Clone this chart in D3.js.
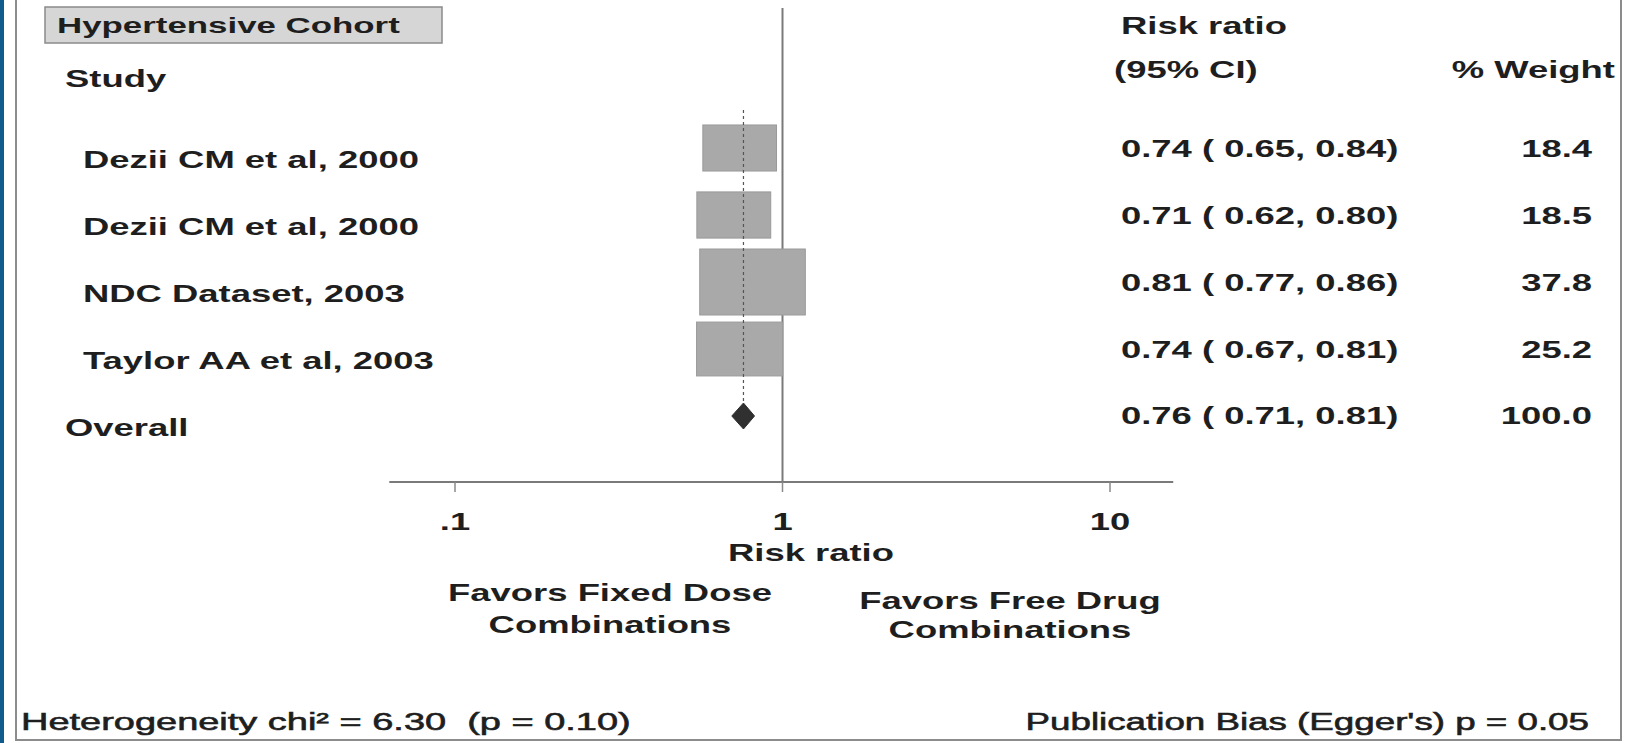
<!DOCTYPE html>
<html>
<head>
<meta charset="utf-8">
<script src="https://cdn.jsdelivr.net/npm/d3@7"></script>
<style>
  html, body { margin: 0; padding: 0; background: #fff; }
  svg { display: block; }
  text { font-family: "Liberation Sans", Arial, sans-serif; fill: #1e1e1e; white-space: pre; }
</style>
</head>
<body>
<svg id="chart" width="1634" height="743"></svg>
<script>
// ---- data -------------------------------------------------------------
const studies   = ["Dezii CM et al, 2000", "Dezii CM et al, 2000", "NDC Dataset, 2003", "Taylor AA et al, 2003"];
const riskRatio = [0.74, 0.71, 0.81, 0.74];
const ciLower   = [0.65, 0.62, 0.77, 0.67];
const ciUpper   = [0.84, 0.80, 0.86, 0.81];
const weights   = [18.4, 18.5, 37.8, 25.2];
const overallLabel  = "Overall";
const overallEst    = [0.76, 0.71, 0.81];   // estimate, lower, upper
const overallWeight = 100.0;
const tickValues = [0.1, 1, 10];
const tickLabels = [".1", "1", "10"];
const axisExtent = [0.063, 15.6];
const heterogeneity = "Heterogeneity chi\u00B2 = 6.30  (p = 0.10)";
const pubBias = "Publication Bias (Egger's) p = 0.05";

// ---- layout -----------------------------------------------------------
const SX = 1.55;          // horizontal stretch of all lettering
const FS = 23.5;          // base font size
const svg = d3.select("#chart");

const x = d3.scaleLog().domain([0.1, 10]).range([455, 1110]);
const rows = d3.range(studies.length + 1);
const y = d3.scalePoint().domain(rows).range([148, 416]);
const boxH = d3.scaleSqrt().domain([0, 37.8]).range([0, 66]);
const f2 = d3.format(".2f"), f1 = d3.format(".1f");

function label(x0, y0, s, opt = {}) {
  const t = svg.append("text")
    .attr("transform", `translate(${x0},${y0}) scale(${opt.sx || SX},1)`)
    .attr("text-anchor", opt.anchor || "start")
    .attr("font-size", opt.size || FS)
    .attr("font-weight", opt.weight || "bold")
    .attr("xml:space", "preserve")
    .text(s);
  if (opt.stroke) t.attr("stroke", "#1e1e1e").attr("stroke-width", opt.stroke);
  return t;
}

// ---- frame ------------------------------------------------------------
svg.append("rect").attr("x", 0).attr("y", 0).attr("width", 4).attr("height", 743).attr("fill", "#0f5b8c");
svg.append("path")
  .attr("d", "M16,0V740H1621V0")
  .attr("fill", "none").attr("stroke", "#8c8c8c").attr("stroke-width", 2);

// ---- header -----------------------------------------------------------
svg.append("rect").attr("x", 45).attr("y", 7).attr("width", 397).attr("height", 36)
  .attr("fill", "#d6d6d6").attr("stroke", "#8a8a8a").attr("stroke-width", 1.5);
label(57, 33, "Hypertensive Cohort", { size: 22.5 });
label(65, 87, "Study");
label(1121, 34, "Risk ratio");
label(1114, 78, "(95% CI)");
label(1615, 78, "% Weight", { anchor: "end" });

// ---- axis -------------------------------------------------------------
const axisY = 482;
svg.append("line")
  .attr("x1", x(axisExtent[0])).attr("x2", x(axisExtent[1]))
  .attr("y1", axisY).attr("y2", axisY)
  .attr("stroke", "#7a7a7a").attr("stroke-width", 2);
svg.selectAll(".tick").data(tickValues).join("line")
  .attr("class", "tick")
  .attr("x1", d => x(d)).attr("x2", d => x(d))
  .attr("y1", axisY).attr("y2", axisY + 10)
  .attr("stroke", "#8a8a8a").attr("stroke-width", 1.5);
tickValues.forEach((d, i) => label(x(d), 530, tickLabels[i], { anchor: "middle" }));

label(811, 561, "Risk ratio", { anchor: "middle" });
label(610, 601, "Favors Fixed Dose", { anchor: "middle" });
label(610, 633, "Combinations", { anchor: "middle" });
label(1010, 609, "Favors Free Drug", { anchor: "middle" });
label(1010, 638, "Combinations", { anchor: "middle" });

// null line at risk ratio 1
svg.append("line")
  .attr("x1", x(1)).attr("x2", x(1)).attr("y1", 8).attr("y2", axisY)
  .attr("stroke", "#7a7a7a").attr("stroke-width", 2);

// ---- studies ----------------------------------------------------------
studies.forEach((s, i) => {
  const cy = y(i);
  svg.append("line")
    .attr("x1", x(ciLower[i])).attr("x2", x(ciUpper[i]))
    .attr("y1", cy).attr("y2", cy)
    .attr("stroke", "#555").attr("stroke-width", 1);
  const h = boxH(weights[i]), w = h * 1.6;
  svg.append("rect")
    .attr("x", x(riskRatio[i]) - w / 2).attr("y", cy - h / 2)
    .attr("width", w).attr("height", h)
    .attr("fill", "#a9a9a9").attr("stroke", "#9a9a9a").attr("stroke-width", 1);
  label(83, cy + 20, s);
  label(1121, cy + 9, `${f2(riskRatio[i])} ( ${f2(ciLower[i])}, ${f2(ciUpper[i])})`);
  label(1592, cy + 9, f1(weights[i]), { anchor: "end" });
});

// ---- overall ----------------------------------------------------------
const oy = y(studies.length);
const dh = 13;
svg.append("line")
  .attr("x1", x(overallEst[0])).attr("x2", x(overallEst[0]))
  .attr("y1", y(0) - 38).attr("y2", oy - dh)
  .attr("stroke", "#555").attr("stroke-width", 1.2).attr("stroke-dasharray", "3,3");
svg.append("path")
  .attr("d", `M${x(overallEst[1]) - 2},${oy}L${x(overallEst[0])},${oy - dh}L${x(overallEst[2]) + 2},${oy}L${x(overallEst[0])},${oy + dh}Z`)
  .attr("fill", "#303030").attr("stroke", "#303030");
label(65, oy + 20, overallLabel);
label(1121, oy + 8, `${f2(overallEst[0])} ( ${f2(overallEst[1])}, ${f2(overallEst[2])})`);
label(1592, oy + 8, f1(overallWeight), { anchor: "end" });

// ---- footnotes --------------------------------------------------------
label(21, 730, heterogeneity, { weight: "normal", size: 24.5, sx: 1.55, stroke: 0.6 });
label(1589, 730, pubBias, { weight: "normal", size: 24.5, sx: 1.5, anchor: "end", stroke: 0.6 });
</script>
</body>
</html>
